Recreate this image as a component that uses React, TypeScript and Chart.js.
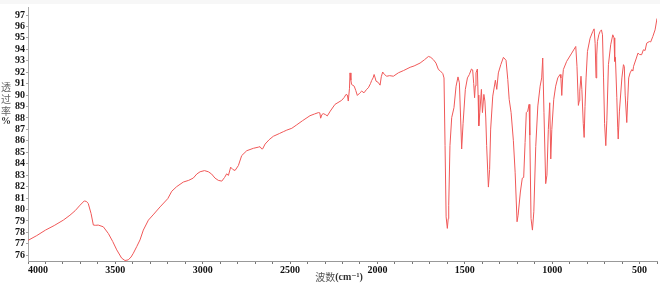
import React, { useEffect, useRef } from "react";
import { Chart, registerables } from "chart.js";

Chart.register(...registerables);

const wavenumbers = [
  4000, 3950, 3900, 3850, 3798, 3760, 3730, 3702, 3678, 3665, 3655, 3639, 3626, 3612, 3598, 3569, 3540, 3515, 3492, 3464,
  3445, 3426, 3410, 3397, 3378, 3359, 3340, 3311, 3280, 3244, 3200, 3177, 3149, 3111, 3080, 3054, 3034, 3015, 2990, 2968,
  2949, 2930, 2911, 2891, 2875, 2863, 2853, 2840, 2828, 2815, 2796, 2777, 2748, 2710, 2682, 2672, 2662, 2657, 2643, 2620,
  2596, 2560, 2539, 2519, 2490, 2462, 2430, 2386, 2360, 2338, 2330, 2325, 2318, 2310, 2298, 2287, 2270, 2243, 2220, 2205,
  2190, 2180, 2172, 2167, 2160, 2157, 2152, 2148, 2140, 2133, 2124, 2115, 2100, 2090, 2077, 2062, 2052, 2040, 2033, 2025,
  2019, 2013, 2008, 1995, 1985, 1978, 1970, 1960, 1947, 1930, 1909, 1880, 1850, 1813, 1790, 1756, 1730, 1708, 1695, 1680,
  1665, 1651, 1642, 1626, 1619, 1613, 1607, 1600, 1595, 1592, 1585, 1575, 1562, 1550, 1539, 1531, 1524, 1518, 1510, 1497,
  1485, 1474, 1462, 1455, 1449, 1444, 1440, 1436, 1428, 1424, 1420, 1414, 1405, 1399, 1391, 1385, 1380, 1375, 1365, 1358,
  1352, 1340, 1325, 1317, 1308, 1294, 1279, 1264, 1254, 1246, 1235, 1222, 1212, 1201, 1195, 1182, 1171, 1163, 1155, 1148,
  1140, 1132, 1128, 1121, 1113, 1105, 1094, 1082, 1069, 1060, 1054, 1047, 1037, 1030, 1022, 1014, 1008, 1002, 991, 980,
  968, 955, 950, 945, 940, 936, 917, 888, 865, 858, 850, 845, 842, 835, 830, 822, 817, 812, 806, 798,
  783, 768, 760, 754, 749, 745, 741, 733, 726, 718, 712, 706, 700, 693, 687, 678, 665, 653, 646, 642,
  638, 630, 625, 622, 615, 601, 592, 587, 582, 573, 568, 562, 554, 544, 538, 534, 518, 509, 500, 488,
  478, 468, 459, 444, 436, 424, 411, 400,
];

const transmittance = [
  77.3, 77.72, 78.2, 78.6, 79.07, 79.5, 79.9, 80.38, 80.75, 80.7, 80.52, 79.65, 78.64, 78.62, 78.64, 78.49, 77.9, 77.2, 76.47, 75.75,
  75.54, 75.6, 75.85, 76.18, 76.75, 77.34, 78.2, 79.07, 79.6, 80.23, 80.95, 81.6, 82.0, 82.4, 82.55, 82.75, 83.1, 83.3, 83.4, 83.3,
  83.1, 82.75, 82.55, 82.48, 82.8, 83.12, 82.98, 83.7, 83.5, 83.41, 83.84, 84.71, 85.14, 85.35, 85.45, 85.49, 85.29, 85.3, 85.72, 86.1,
  86.4, 86.65, 86.8, 86.94, 87.1, 87.4, 87.75, 88.2, 88.35, 88.47, 88.45, 87.98, 88.3, 88.38, 88.3, 88.18, 88.6, 89.19, 89.4, 89.54,
  89.8, 90.06, 90.0, 89.48, 90.6, 91.94, 91.3, 90.93, 90.85, 90.78, 90.4, 89.97, 90.2, 90.35, 90.2, 90.5, 90.64, 91.0, 91.28, 91.5,
  91.8, 91.5, 91.22, 91.1, 90.87, 91.6, 92.02, 91.8, 91.65, 91.7, 91.65, 91.95, 92.15, 92.43, 92.55, 92.8, 93.1, 93.38, 93.3, 93.1,
  92.8, 92.23, 92.14, 91.88, 91.5, 85.58, 79.36, 78.35, 79.2, 80.37, 85.58, 88.03, 88.9, 90.78, 91.59, 91.07, 88.0, 85.29, 87.5, 90.5,
  91.5, 91.8, 92.28, 92.2, 91.0, 89.77, 90.8, 91.94, 92.28, 90.0, 87.31, 88.5, 90.5, 88.47, 90.06, 89.48, 88.0, 85.58, 81.96, 83.5,
  87.03, 89.91, 91.3, 90.5, 91.94, 92.66, 93.3, 93.04, 91.36, 89.63, 88.47, 86.01, 83.26, 78.93, 79.5, 81.53, 82.74, 82.8, 85.86, 88.47,
  88.6, 89.19, 86.5, 79.22, 78.2, 79.8, 85.5, 89.05, 90.78, 91.5, 93.24, 88.5, 82.26, 83.0, 87.0, 89.33, 84.42, 87.0, 89.63, 90.78,
  91.5, 91.8, 91.5, 89.97, 91.5, 92.23, 92.95, 93.67, 94.25, 92.52, 89.1, 89.5, 90.35, 91.65, 90.5, 87.5, 86.3, 89.0, 91.5, 93.82,
  94.97, 95.55, 95.79, 94.5, 91.5, 93.5, 94.68, 95.27, 95.55, 95.7, 95.27, 91.5, 87.5, 85.58, 87.8, 92.66, 94.4, 95.27, 95.0, 92.95,
  93.3, 89.77, 87.2, 86.16, 88.6, 91.5, 92.66, 92.5, 90.0, 87.6, 89.5, 91.5, 91.94, 92.23, 92.1, 92.52, 93.24, 93.67, 93.55, 93.53,
  93.96, 93.9, 94.54, 94.68, 94.65, 95.12, 95.7, 96.7,
];

const yTickValues = [76, 77, 78, 79, 80, 81, 82, 83, 84, 85, 86, 87, 88, 89, 90, 91, 92, 93, 94, 95, 96, 97];
const xLabelValues = [4000, 3500, 3000, 2500, 2000, 1500, 1000, 500];
const xMinorStep = 100;
const yTitleChars = ["透", "过", "率"];
const yTitleUnit = "%";
const xTitleMain = "波数";
const xTitleUnit = "(cm⁻¹)";

const tickFont = { family: '"Liberation Serif", "Times New Roman", serif', size: 10, weight: "bold" as const };

const titlePlugin = {
  id: "titles",
  beforeDraw(chart: any) {
    const ctx = chart.ctx;
    ctx.save();
    ctx.fillStyle = "#f7f7f7";
    ctx.fillRect(0, 0, chart.width, 4);
    ctx.restore();
  },
  afterDraw(chart: any) {
    const ctx = chart.ctx;
    ctx.save();
    ctx.textAlign = "center";
    ctx.textBaseline = "middle";
    ctx.fillStyle = "#666";
    ctx.font = '10px "Noto Sans CJK SC"';
    yTitleChars.forEach((c, i) => {
      ctx.fillText(c, 6, 87 + i * 12);
    });
    ctx.fillStyle = "#333";
    ctx.font = 'bold 10px "Liberation Serif", serif';
    ctx.fillText(yTitleUnit, 6, 121);

    ctx.textAlign = "left";
    ctx.fillStyle = "#555";
    ctx.font = '10px "Noto Sans CJK SC"';
    const w1 = ctx.measureText(xTitleMain).width;
    ctx.font = 'bold 10px "Liberation Serif", "DejaVu Serif", serif';
    const w2 = ctx.measureText(xTitleUnit).width;
    const start = 339 - (w1 + w2) / 2;
    ctx.font = '10px "Noto Sans CJK SC"';
    ctx.fillText(xTitleMain, start, 277);
    ctx.fillStyle = "#333";
    ctx.font = 'bold 10px "Liberation Serif", "DejaVu Serif", serif';
    ctx.fillText(xTitleUnit, start + w1, 277);
    ctx.restore();
  },
};

export default function App() {
  const canvasRef = useRef<HTMLCanvasElement | null>(null);

  useEffect(() => {
    if (!canvasRef.current) return;
    const points = wavenumbers.map((w, i) => ({ x: w, y: transmittance[i] }));
    const chart = new Chart(canvasRef.current, {
      type: "line",
      data: {
        datasets: [
          {
            data: points,
            borderColor: "rgb(240, 88, 88)",
            borderWidth: 1,
            pointRadius: 0,
            tension: 0,
            fill: false,
          },
        ],
      },
      options: {
        animation: false,
        responsive: false,
        maintainAspectRatio: false,
        layout: { padding: { top: 5, right: 3, left: 0, bottom: 0 } },
        plugins: { legend: { display: false }, tooltip: { enabled: false } },
        scales: {
          x: {
            type: "linear",
            reverse: true,
            min: 400,
            max: 4000,
            afterFit: (s: any) => {
              s.height = 22;
            },
            afterBuildTicks: (s: any) => {
              const t: any[] = [];
              for (let v = s.min; v <= s.max; v += xMinorStep) t.push({ value: v });
              s.ticks = t;
            },
            border: { display: true, color: "#999", width: 1 },
            grid: { drawOnChartArea: false, drawTicks: true, tickLength: 3, color: "#777" },
            ticks: {
              autoSkip: false,
              maxRotation: 0,
              align: "inner",
              padding: 0,
              color: "#111",
              font: tickFont,
              callback: (v: any) => (xLabelValues.includes(Number(v)) ? String(v) : ""),
            },
          },
          y: {
            type: "linear",
            min: 75.5,
            max: 97.7,
            afterFit: (s: any) => {
              s.width = 28;
            },
            afterBuildTicks: (s: any) => {
              s.ticks = yTickValues.map((v) => ({ value: v }));
            },
            border: { display: true, color: "#aaa", width: 1, dash: [1, 1] },
            grid: { drawOnChartArea: false, drawTicks: true, tickLength: 2, color: "#aaa" },
            ticks: {
              autoSkip: false,
              padding: 1,
              color: "#111",
              font: tickFont,
              callback: (v: any) => String(v),
            },
          },
        },
      },
      plugins: [titlePlugin],
    });
    return () => chart.destroy();
  }, []);

  return (
    <div style={{ position: "absolute", left: 0, top: 0, width: 660, height: 283, background: "#fff" }}>
      <canvas ref={canvasRef} width={660} height={283} style={{ width: 660, height: 283 }} />
    </div>
  );
}
